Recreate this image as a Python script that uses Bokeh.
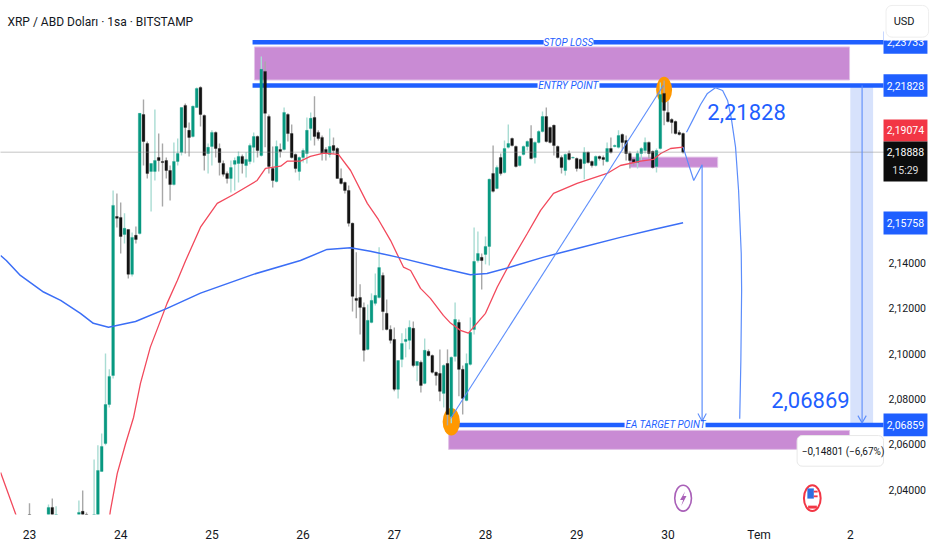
from bokeh.embed import file_html
from bokeh.resources import INLINE
from bokeh.plotting import figure
from bokeh.models import ColumnDataSource, FixedTicker, Range1d
from bokeh.core.properties import value

FONT = "Roboto"
BLUE = "#1f5fff"
THIN = "#5c8dfb"
PURPLE = "#c98bd4"
TEAL = "#089981"
DARK = "#131313"

hours = [0, 5, 6, 7, 13, 14, 15, 17, 18, 19] + list(range(20, 173))

opens = [
 2.0282,2.0243,2.0322,2.0243,2.0265,2.0305,2.0282,2.0243,2.0265,2.0481,
 2.0604,2.0776,2.0904,2.1605,2.1601,2.1526,2.1548,2.1350,2.1522,2.1530,
 2.2055,2.1927,2.1804,2.1804,2.1865,2.1848,2.1852,2.1808,2.1746,2.1848,
 2.1888,2.2095,2.1985,2.1958,2.2086,2.2174,2.2051,2.1883,2.1914,2.1976,
 2.1905,2.1839,2.1795,2.1773,2.1835,2.1839,2.1870,2.1830,2.1848,2.1910,
 2.1958,2.1874,2.2245,2.2046,2.1817,2.1760,2.1901,2.1901,2.2055,2.1971,
 2.1879,2.1804,2.1865,2.1883,2.1993,2.2042,2.1976,2.1954,2.1901,2.1879,
 2.1918,2.1905,2.1773,2.1755,2.1720,2.1575,2.1244,2.1248,2.1204,2.1019,
 2.1138,2.1222,2.1248,2.1345,2.1178,2.1107,2.1063,2.0843,2.0975,2.1054,
 2.1059,2.1112,2.0948,2.0962,2.0869,2.1010,2.0992,2.0918,2.0913,2.0825,
 2.0957,2.0723,2.0988,2.1138,2.0931,2.0794,2.0953,2.1107,2.1411,2.1425,
 2.1438,2.1473,2.1795,2.1729,2.1865,2.1799,2.1910,2.1949,2.1914,2.1830,
 2.1879,2.1914,2.1949,2.1865,2.1932,2.1980,2.2046,2.1998,2.2007,2.1914,
 2.1865,2.1808,2.1883,2.1863,2.1861,2.1857,2.1839,2.1888,2.1848,2.1830,
 2.1870,2.1865,2.1848,2.1905,2.1914,2.1910,2.1967,2.1940,2.1883,2.1857,
 2.1843,2.1883,2.1896,2.1932,2.1892,2.1826,2.1905,2.2148,2.2064,2.2033,
 2.2024,2.1976,2.1971]
highs = [
 2.0340,2.0335,2.0362,2.0327,2.0353,2.0397,2.0300,2.0534,2.0596,2.0648,
 2.1001,2.0931,2.1720,2.1707,2.1667,2.1619,2.1548,2.1535,2.1561,2.2060,
 2.2121,2.1936,2.1839,2.2077,2.1971,2.1927,2.1865,2.1830,2.1932,2.1949,
 2.2086,2.2104,2.2020,2.2095,2.2174,2.2179,2.2055,2.1927,2.1985,2.1980,
 2.1927,2.1852,2.1804,2.1852,2.1865,2.1892,2.1879,2.1888,2.1927,2.1976,
 2.1962,2.2311,2.2289,2.2055,2.1914,2.1940,2.1927,2.2086,2.2060,2.2011,
 2.1883,2.1870,2.1905,2.2042,2.2064,2.2135,2.1985,2.1962,2.1910,2.1993,
 2.1954,2.1910,2.1817,2.1760,2.1742,2.1579,2.1447,2.1306,2.1226,2.1217,
 2.1266,2.1354,2.1469,2.1358,2.1239,2.1125,2.1116,2.0970,2.1090,2.1112,
 2.1147,2.1142,2.0966,2.0970,2.1067,2.1019,2.0997,2.0922,2.1019,2.0953,
 2.1019,2.0988,2.1226,2.1151,2.0948,2.1001,2.1160,2.1557,2.1539,2.1442,
 2.1517,2.1773,2.1918,2.1830,2.1883,2.1940,2.2011,2.1954,2.1918,2.1874,
 2.1918,2.1940,2.2007,2.1936,2.1985,2.2068,2.2086,2.2002,2.2011,2.1918,
 2.1874,2.1883,2.1896,2.1870,2.1865,2.1861,2.1910,2.1892,2.1852,2.1874,
 2.1874,2.1874,2.1932,2.1954,2.1923,2.1985,2.1971,2.1962,2.1892,2.1865,
 2.1896,2.1910,2.1954,2.1936,2.1896,2.1905,2.2196,2.2205,2.2113,2.2038,
 2.2029,2.1985,2.1976]
lows = [
 2.0243,2.0221,2.0221,2.0221,2.0243,2.0243,2.0243,2.0221,2.0243,2.0481,
 2.0596,2.0763,2.0891,2.1557,2.1442,2.1486,2.1332,2.1341,2.1486,2.1526,
 2.1830,2.1773,2.1627,2.1764,2.1804,2.1649,2.1773,2.1676,2.1742,2.1830,
 2.1874,2.1883,2.1870,2.1954,2.2086,2.2002,2.1808,2.1795,2.1830,2.1865,
 2.1786,2.1782,2.1751,2.1711,2.1720,2.1755,2.1795,2.1777,2.1835,2.1843,
 2.1865,2.1870,2.1910,2.1795,2.1733,2.1755,2.1865,2.1896,2.1936,2.1861,
 2.1799,2.1764,2.1843,2.1839,2.1940,2.1918,2.1940,2.1852,2.1852,2.1865,
 2.1883,2.1773,2.1746,2.1707,2.1561,2.1186,2.1156,2.1085,2.0966,2.1015,
 2.1134,2.1213,2.1244,2.1103,2.1103,2.1045,2.0834,2.0803,2.0940,2.0984,
 2.1019,2.0940,2.0878,2.0829,2.0865,2.0988,2.0913,2.0860,2.0790,2.0763,
 2.0684,2.0693,2.0966,2.0812,2.0732,2.0790,2.0948,2.1085,2.1402,2.1283,
 2.1394,2.1389,2.1711,2.1725,2.1786,2.1795,2.1905,2.1914,2.1821,2.1826,
 2.1874,2.1896,2.1857,2.1839,2.1927,2.1976,2.1932,2.1927,2.1874,2.1861,
 2.1795,2.1786,2.1852,2.1861,2.1804,2.1813,2.1769,2.1839,2.1821,2.1826,
 2.1852,2.1830,2.1843,2.1883,2.1910,2.1905,2.1896,2.1852,2.1817,2.1830,
 2.1817,2.1852,2.1883,2.1861,2.1817,2.1799,2.1901,2.2007,2.2020,2.1971,
 2.1967,2.1962,2.1883]
closes = [
 2.0265,2.0322,2.0243,2.0282,2.0300,2.0265,2.0265,2.0282,2.0485,2.0591,
 2.0776,2.0900,2.1654,2.1597,2.1517,2.1553,2.1350,2.1513,2.1504,2.2060,
 2.1936,2.1795,2.1839,2.1852,2.1852,2.1843,2.1808,2.1746,2.1848,2.1883,
 2.2086,2.1998,2.1954,2.2091,2.2170,2.2055,2.1874,2.1910,2.1976,2.1905,
 2.1843,2.1791,2.1773,2.1821,2.1852,2.1870,2.1839,2.1857,2.1918,2.1958,
 2.1896,2.2254,2.2060,2.1826,2.1764,2.1914,2.1892,2.2064,2.1971,2.1865,
 2.1817,2.1865,2.1896,2.1985,2.2038,2.1958,2.1949,2.1883,2.1883,2.1914,
 2.1896,2.1773,2.1751,2.1720,2.1575,2.1253,2.1235,2.1204,2.1015,2.1147,
 2.1235,2.1257,2.1380,2.1186,2.1107,2.1059,2.0843,2.0970,2.1045,2.1063,
 2.1116,2.0948,2.0966,2.0860,2.1015,2.0992,2.0918,2.0904,2.0834,2.0948,
 2.0732,2.0984,2.1151,2.0931,2.0803,2.0957,2.1094,2.1407,2.1442,2.1411,
 2.1473,2.1769,2.1716,2.1821,2.1795,2.1905,2.1927,2.1918,2.1826,2.1870,
 2.1914,2.1936,2.1861,2.1932,2.1980,2.2046,2.1936,2.1932,2.1918,2.1865,
 2.1821,2.1879,2.1857,2.1865,2.1817,2.1817,2.1888,2.1843,2.1830,2.1870,
 2.1861,2.1857,2.1905,2.1888,2.1918,2.1962,2.1932,2.1883,2.1852,2.1843,
 2.1883,2.1905,2.1932,2.1883,2.1821,2.1896,2.2143,2.2073,2.2024,2.2020,
 2.1971,2.1967,2.1889]

ma_fast_x = [-7.6,-3.6,0,20,21.3,23.1,25.3,27.4,29.2,31.8,34.5,36.2,38.9,41.1,45,49.4,53.7,59.9,62.1,66.1,67.8,71.3,73.9,77.4,81.3,84.5,88.9,91.8,95,98.4,100.3,102.9,105.5,108.9,110.8,113.4,115.5,120,123.1,126.6,131,134.5,137.9,144.1,152,155.5,160.8,164.2,166.1,168.7,172]
ma_fast_y = [2.0476,2.0291,2.0150,2.0150,2.0309,2.0472,2.0604,2.0720,2.0869,2.1029,2.1147,2.1222,2.1323,2.1411,2.1558,2.1663,2.1702,2.1764,2.1817,2.1827,2.1849,2.1849,2.1870,2.1885,2.1879,2.1808,2.1663,2.1592,2.1500,2.1382,2.1367,2.1288,2.1244,2.1169,2.1135,2.1103,2.1091,2.1178,2.1294,2.1404,2.1530,2.1632,2.1707,2.1751,2.1795,2.1830,2.1849,2.1857,2.1883,2.1905,2.1911]
ma_slow_x = [-7.6,-6.1,-2.4,3.7,8.2,13.4,16.8,20.8,27.9,36.2,45,58.9,71.3,78.3,84.5,89.7,96.8,108.9,116,120.4,126.6,135.3,144.1,155.5,164.2,172]
ma_slow_y = [2.1433,2.1411,2.1345,2.1272,2.1235,2.1178,2.1134,2.1117,2.1142,2.1200,2.1267,2.1350,2.1411,2.1460,2.1467,2.1452,2.1426,2.1376,2.1348,2.1354,2.1382,2.1426,2.1464,2.1513,2.1548,2.1578]

price_ticks = [2.04, 2.06, 2.08, 2.10, 2.12, 2.14, 2.16]
price_labels = ["2,04000", "2,06000", "2,08000", "2,10000", "2,12000", "2,14000", "2,16000"]
time_ticks = [0, 24, 48, 72, 96, 120, 144, 168, 192, 216]
time_labels = ["23", "24", "25", "26", "27", "28", "29", "30", "Tem", "2"]

STOP, ENTRY, TARGET, LAST = 2.23733, 2.21828, 2.06859, 2.18888
X0, XE, X1 = -7.63, 224.74, 237.63
Y0, Y1 = 2.02909, 2.25577

p = figure(frame_width=932, frame_height=514, output_backend="svg", toolbar_location=None,
           x_range=Range1d(X0, X1), y_range=Range1d(Y0, Y1), y_axis_location="right",
           min_border_left=0, min_border_top=0, min_border_right=0, min_border_bottom=36)
p.outline_line_color = None
p.grid.visible = False
p.background_fill_color = "white"

for ax, ticks, labels in ((p.yaxis[0], price_ticks, price_labels), (p.xaxis[0], time_ticks, time_labels)):
    ax.ticker = FixedTicker(ticks=ticks)
    ax.major_label_overrides = dict(zip(ticks, labels))
    ax.axis_line_color = None
    ax.major_tick_line_color = None
    ax.minor_tick_line_color = None
    ax.major_tick_out = 0
    ax.major_tick_in = 0
    ax.major_label_text_font = FONT
    ax.major_label_text_font_size = "10.5px"
    ax.major_label_text_color = "#131722"
p.yaxis[0].major_label_standoff = -44
p.yaxis[0].level = "underlay"
p.xaxis[0].major_label_standoff = 13
p.xaxis[0].major_label_text_font_size = "12px"

# measured zone band
p.quad(left=[216], right=[222], top=[ENTRY], bottom=[TARGET], fill_color="#d7e2fc", line_color=None)
# zones
p.quad(left=[59.2, 110.3, 157.9], right=[215.8, 215.8, 181.1], top=[2.2353, 2.0662, 2.1867],
       bottom=[2.2207, 2.0578, 2.1822], fill_color=PURPLE, line_color="#e3c4e8", line_width=1)
# level lines
p.multi_line(xs=[[58.7, 135.3], [148.4, XE], [58.7, 133.7], [150, XE], [110.5, 156.6], [177.9, XE]],
             ys=[[STOP, STOP], [STOP, STOP], [ENTRY, ENTRY], [ENTRY, ENTRY], [TARGET, TARGET], [TARGET, TARGET]],
             line_color=BLUE, line_width=4.6)
# pivots
p.ellipse(x=[167, 111], y=[2.2164, 2.0700], width=[4.2, 4.55], height=[0.0114, 0.0122],
          fill_color="#ff9800", line_color=None)

# candles
colors_up = [c >= o for o, c in zip(opens, closes)]
src = ColumnDataSource(dict(
    x=hours, top=[max(o, c) for o, c in zip(opens, closes)], bottom=[min(o, c) for o, c in zip(opens, closes)],
    high=highs, low=lows,
    body=[TEAL if u else DARK for u in colors_up],
    wick=["#a9dcd3" if u else "#a8a8a8" for u in colors_up]))
p.segment(x0="x", y0="high", x1="x", y1="low", color="wick", line_width=1.4, source=src)
p.vbar(x="x", top="top", bottom="bottom", width=0.72, fill_color="body", line_color="body", line_width=0.3, source=src)

# moving averages
p.line(ma_fast_x, ma_fast_y, line_color="#f2495c", line_width=1.3)
p.line(ma_slow_x, ma_slow_y, line_color="#3b6ef6", line_width=1.5)

# last price line
p.line([X0, XE], [LAST, LAST], line_color="#8a8a8a", line_width=1, line_dash="1 1")

# drawings
p.line([110.8, 166.8], [2.0714, 2.2183], line_color=THIN, line_width=1.1)
p.line([172, 174.8, 177, 177], [2.1911, 2.1764, 2.1833, 2.0702], line_color=THIN, line_width=1.2)
p.line([172.9,174.5,176.6,178.4,180.5,182.4,183.7,184.7,185.8,186.6,187.3,187.4,187.2,186.9],
       [2.1977,2.2029,2.2099,2.2148,2.2173,2.2161,2.2117,2.2037,2.1911,2.1720,2.1442,2.1279,2.0970,2.0713],
       line_color=THIN, line_width=1.2)
p.line([219.1, 219.1], [ENTRY, 2.0695], line_color=THIN, line_width=1.1)
p.multi_line(xs=[[175.9, 177, 178.1], [218, 219.1, 220.2]], ys=[[2.0736, 2.0702, 2.0736], [2.0727, 2.0695, 2.0727]],
             line_color=THIN, line_width=1.1)

# event icons
p.ellipse(x=[172], y=[2.0363], width=[4.4], height=[0.0114], fill_color="white", line_color="#a960b8", line_width=1.6)
p.patch([172.5, 171.2, 172.0, 171.5, 172.9, 172.1], [2.0392, 2.0355, 2.0355, 2.0328, 2.0372, 2.0372], fill_color="#a960b8", line_color=None)
p.ellipse(x=[206], y=[2.0363], width=[4.4], height=[0.0114], fill_color="white", line_color="#f23645", line_width=2)
p.quad(left=[204.7, 206.4, 206.4, 204.9], right=[206.4, 207.4, 207.4, 207.2],
       top=[2.0406, 2.0396, 2.0375, 2.0330], bottom=[2.0361, 2.0388, 2.0367, 2.0317],
       fill_color=["#2f6fe0", "#f23645", "#f23645", "#f23645"], line_color=None)

# drawing texts
p.text(x=[141.8, 141.8, 167.4], y=[STOP, ENTRY, TARGET], text=["STOP LOSS", "ENTRY POINT", "EA TARGET POINT"],
       text_font=value(FONT), text_font_style="italic", text_font_size="10px", text_color=BLUE,
       text_align="center", text_baseline="middle")
p.text(x=[188.7, 205.5], y=[2.2064, 2.0798], text=["2,21828", "2,06869"], text_font=value(FONT),
       text_font_size="22px", text_color=BLUE, text_align="center", text_baseline="middle")

# measure tooltip
p.quad(left=[202], right=[XE], top=[2.0639], bottom=[2.0504], fill_color="white", line_color="#e8e8e8", border_radius=5)
p.text(x=[214.1], y=[2.0570], text=["\u22120,14801 (\u22126,67%)"], text_font=value(FONT), text_font_size="10px",
       text_color="#131722", text_align="center", text_baseline="middle")

# price scale tags
TAG_R = 236.3
TAG_TX = 230.5
def tags(top, bottom, color):
    p.quad(left=[XE], right=[TAG_R], top=[top], bottom=[bottom], fill_color=color, line_color=None)
def tag_text(y, txt, color="white"):
    p.text(x=[TAG_TX], y=[y], text=[txt], text_font=value(FONT), text_font_size="10.5px", text_color=color,
           text_align="center", text_baseline="middle")

tags(2.2421, 2.2323, BLUE)
tag_text(STOP, "2,23733")
p.quad(left=[XE], right=[X1], top=[Y1], bottom=[2.2381], fill_color="white", line_color=None)
tags(2.2233, 2.2133, BLUE); tag_text(ENTRY, "2,21828")
tags(2.2033, 2.1936, "#f23645"); tag_text(2.1985, "2,19074")
tags(2.1936, 2.1760, "#0c0c0c"); tag_text(2.1889, "2,18888"); tag_text(2.1810, "15:29", "#dddddd")
tags(2.1627, 2.1526, BLUE); tag_text(2.15758, "2,15758")
tags(2.0736, 2.0636, BLUE); tag_text(TARGET, "2,06859")

# currency button
p.quad(left=[225.4], right=[236.6], top=[2.2536], bottom=[2.2396], fill_color="white", line_color="#eeeeee", border_radius=6)
p.text(x=[227.4], y=[2.2466], text=["USD"], text_font=value(FONT), text_font_size="11px", text_color="#131722",
       text_align="left", text_baseline="middle")

# title
p.text(x=[-5.8], y=[2.2465], text=["XRP / ABD Dolar\u0131 \u00b7 1sa \u00b7 BITSTAMP"], text_font=value(FONT),
       text_font_size="12px", text_color="#131722", text_align="left", text_baseline="middle")

open("out.html", "w").write(file_html(p, INLINE))
